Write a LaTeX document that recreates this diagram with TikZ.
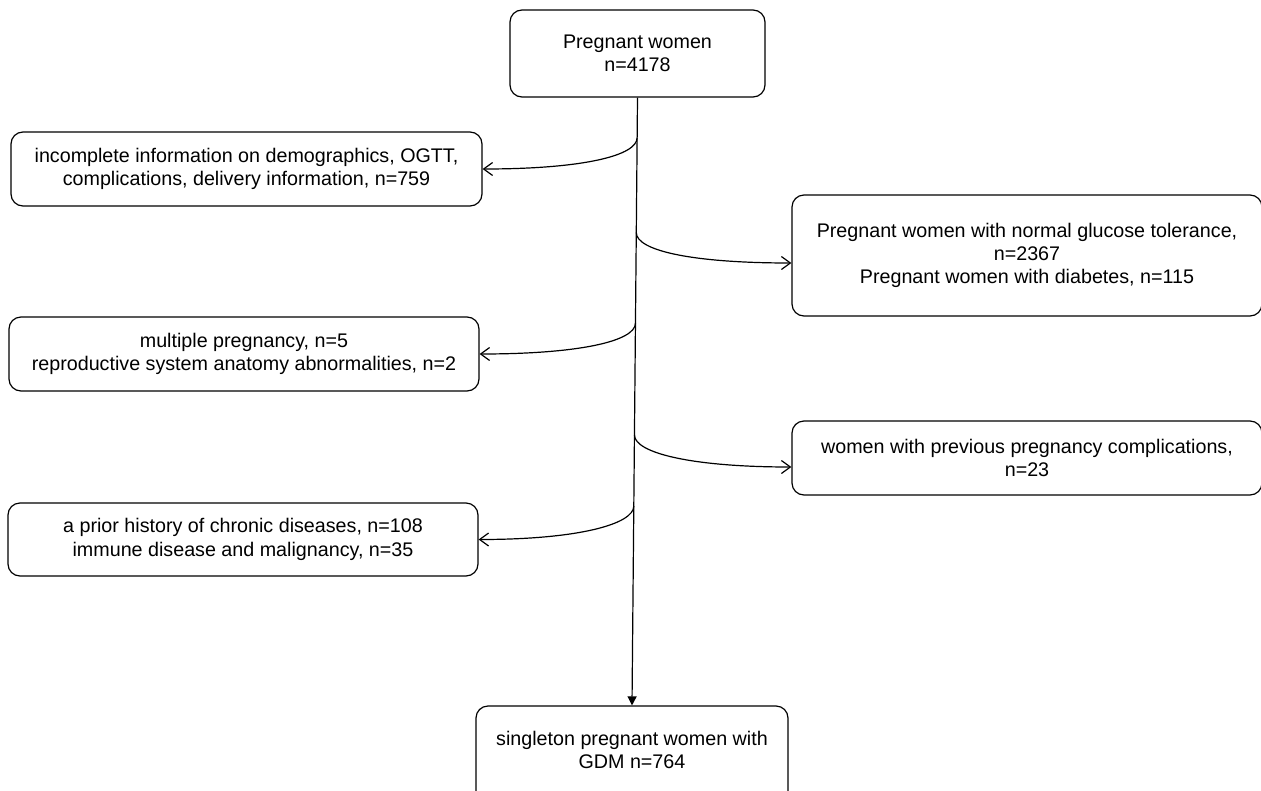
\documentclass[tikz,border=0pt]{standalone}
\usepackage{fontspec}
\setmainfont{Liberation Sans}
\usetikzlibrary{arrows.meta,calc}
\begin{document}
\begin{tikzpicture}[x=1pt,y=-1pt,
  box/.style={draw=black, line width=1.2pt, rounded corners=12pt, align=center,
    inner sep=0pt, font=\fontsize{19.7}{23.3}\selectfont, text=black},
  branch/.style={draw=black, line width=1.2pt, -{Straight Barb[length=9pt,width=13pt,line width=1.2pt]}},
  trunk/.style={draw=black, line width=1.2pt, -{Triangle[length=9pt,width=9pt]}}
]
\useasboundingbox (0,0) rectangle (1261,790);

\node[box, minimum width=255, minimum height=87] (top) at (637.5,53.5) {Pregnant women\\n=4178};
\node[box, minimum width=471, minimum height=74] (lb1) at (246.5,169) {incomplete information on demographics, OGTT,\\complications, delivery information, n=759};
\node[box, minimum width=470, minimum height=121] (rb1) at (1027,255.5) {Pregnant women with normal glucose tolerance,\\n=2367\\Pregnant women with diabetes, n=115};
\node[box, minimum width=470, minimum height=74] (lb2) at (244,354) {multiple pregnancy, n=5\\reproductive system anatomy abnormalities, n=2};
\node[box, minimum width=470, minimum height=74] (rb2) at (1027,458) {women with previous pregnancy complications,\\n=23};
\node[box, minimum width=470, minimum height=73] (lb3) at (243,539.5) {a prior history of chronic diseases, n=108\\immune disease and malignancy, n=35};
\node[box, minimum width=312, minimum height=110] (bot) at (632,761) {};
\node[font=\fontsize{19.7}{23.3}\selectfont, align=center, inner sep=0pt] (bottxt) at (632,750) {singleton pregnant women with\\GDM n=764};

\draw[trunk] (top.south) -- (bot.north);

\coordinate (s1) at ($(top.south)!0.066!(bot.north)$);
\coordinate (s2) at ($(top.south)!0.222!(bot.north)$);
\coordinate (s3) at ($(top.south)!0.371!(bot.north)$);
\coordinate (s4) at ($(top.south)!0.555!(bot.north)$);
\coordinate (s5) at ($(top.south)!0.672!(bot.north)$);

\draw[branch] (s1) .. controls +(0,18) and +(100,0) .. (lb1.east);
\draw[branch] (s2) .. controls +(0,18) and +(-100,0) .. ($(rb1.west)+(0,7.5)$);
\draw[branch] (s3) .. controls +(0,18) and +(100,0) .. (lb2.east);
\draw[branch] (s4) .. controls +(0,18) and +(-100,0) .. ($(rb2.west)+(0,9)$);
\draw[branch] (s5) .. controls +(0,18) and +(100,0) .. (lb3.east);
\end{tikzpicture}
\end{document}
